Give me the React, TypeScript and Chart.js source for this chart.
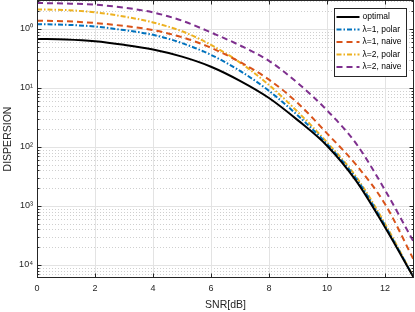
import React, { useEffect, useRef } from 'react';
import { Chart, registerables } from 'chart.js';

Chart.register(...registerables);

const snr = [0, 1, 2, 3, 4, 5, 6, 7, 8, 9, 10, 11, 12, 13];
const optimal = [0.676, 0.661, 0.617, 0.537, 0.447, 0.339, 0.229, 0.132, 0.0676, 0.0282, 0.0105, 0.00269, 0.000437, 0.0000603];
const lam1Polar = [1.202, 1.175, 1.096, 0.955, 0.794, 0.575, 0.363, 0.195, 0.0891, 0.0339, 0.0112, 0.00295, 0.000468, 0.0000603];
const lam1Naive = [1.38, 1.349, 1.259, 1.122, 0.955, 0.724, 0.479, 0.275, 0.138, 0.055, 0.017, 0.00501, 0.00108, 0.00012];
const lam2Polar = [2.138, 2.089, 1.905, 1.622, 1.288, 0.912, 0.537, 0.269, 0.112, 0.0389, 0.012, 0.00316, 0.000501, 0.0000603];
const lam2Naive = [2.754, 2.692, 2.57, 2.291, 1.905, 1.38, 0.871, 0.525, 0.288, 0.12, 0.0417, 0.0115, 0.00186, 0.00024];

const seriesLabels = ['optimal', 'λ=1, polar', 'λ=1, naive', 'λ=2, polar', 'λ=2, naive'];
const xTicks = [0, 2, 4, 6, 8, 10, 12];
const yTicks = [1e-4, 1e-3, 1e-2, 1e-1, 1];
const yTickLabels = ['10⁴', '10³', '10²', '10¹', '10⁰'];
const xMin = 0;
const xMax = 13;
const yMin = Math.pow(10, -4.22);
const yMax = Math.pow(10, 0.49);

const FONT = '"Liberation Sans", Arial, Helvetica, sans-serif';
const AXIS = '#262626';

const styles = [
  { color: '#000000', dash: [] as number[] },
  { color: '#0072BD', dash: [5, 2, 1.5, 2] },
  { color: '#D95319', dash: [6, 4] },
  { color: '#EDB120', dash: [5, 2, 1.5, 2] },
  { color: '#7E2F8E', dash: [6, 4] },
];

const framePlugin = {
  id: 'matlabFrame',
  beforeDatasetsDraw(chart: any) {
    const { ctx, chartArea: ca, scales } = chart;
    const xs = scales.x;
    const ys = scales.y;
    ctx.save();
    ctx.strokeStyle = '#cfcfcf';
    ctx.lineWidth = 1;
    ctx.setLineDash([1, 2]);
    for (let e = -5; e <= 1; e++) {
      for (let m = 2; m <= 9; m++) {
        const v = m * Math.pow(10, e);
        if (v < yMin || v > yMax) continue;
        const y = Math.round(ys.getPixelForValue(v)) + 0.5;
        ctx.beginPath();
        ctx.moveTo(ca.left, y);
        ctx.lineTo(ca.right, y);
        ctx.stroke();
      }
    }
    ctx.setLineDash([]);
    ctx.strokeStyle = '#e3e3e3';
    for (const v of yTicks) {
      const y = Math.round(ys.getPixelForValue(v)) + 0.5;
      ctx.beginPath();
      ctx.moveTo(ca.left, y);
      ctx.lineTo(ca.right, y);
      ctx.stroke();
    }
    for (const v of xTicks) {
      const x = Math.round(xs.getPixelForValue(v)) + 0.5;
      ctx.beginPath();
      ctx.moveTo(x, ca.top);
      ctx.lineTo(x, ca.bottom);
      ctx.stroke();
    }
    ctx.restore();
  },
  afterDatasetsDraw(chart: any) {
    const { ctx, chartArea: ca, scales } = chart;
    const xs = scales.x;
    const ys = scales.y;
    ctx.save();
    ctx.strokeStyle = AXIS;
    ctx.lineWidth = 1;
    ctx.setLineDash([]);
    const L = Math.round(ca.left) + 0.5;
    const R = Math.round(ca.right) - 0.5;
    const T = Math.round(ca.top) + 0.5;
    const B = Math.round(ca.bottom) - 0.5;
    ctx.strokeRect(L, T, R - L, B - T);
    for (const v of xTicks) {
      const x = Math.round(xs.getPixelForValue(v)) + 0.5;
      ctx.beginPath();
      ctx.moveTo(x, B);
      ctx.lineTo(x, B - 4);
      ctx.moveTo(x, T);
      ctx.lineTo(x, T + 4);
      ctx.stroke();
    }
    for (let e = -5; e <= 1; e++) {
      for (let m = 1; m <= 9; m++) {
        const v = m * Math.pow(10, e);
        if (v < yMin || v > yMax) continue;
        const len = m === 1 ? 4 : 2;
        const y = Math.round(ys.getPixelForValue(v)) + 0.5;
        ctx.beginPath();
        ctx.moveTo(L, y);
        ctx.lineTo(L + len, y);
        ctx.moveTo(R, y);
        ctx.lineTo(R - len, y);
        ctx.stroke();
      }
    }
    const bx = Math.round(ca.right) - 79.5;
    const by = 8.5;
    const bw = 72;
    const bh = 68;
    ctx.fillStyle = '#ffffff';
    ctx.fillRect(bx, by, bw, bh);
    ctx.strokeStyle = AXIS;
    ctx.strokeRect(bx, by, bw, bh);
    ctx.font = `8.5px ${FONT}`;
    ctx.textBaseline = 'middle';
    ctx.textAlign = 'left';
    seriesLabels.forEach((label, i) => {
      const y = by + 8.5 + i * 12.5;
      ctx.strokeStyle = styles[i].color;
      ctx.lineWidth = 2;
      ctx.setLineDash(styles[i].dash);
      ctx.beginPath();
      ctx.moveTo(bx + 2, y);
      ctx.lineTo(bx + 25, y);
      ctx.stroke();
      ctx.setLineDash([]);
      ctx.fillStyle = '#000000';
      ctx.fillText(label, bx + 28, y);
    });
    ctx.restore();
  },
};

export default function App() {
  const canvasRef = useRef<HTMLCanvasElement | null>(null);

  useEffect(() => {
    document.body.style.margin = '0';
    const canvas = canvasRef.current;
    if (!canvas) return;
    const seriesData = [optimal, lam1Polar, lam1Naive, lam2Polar, lam2Naive];
    const chart = new Chart(canvas, {
      type: 'line',
      data: {
        datasets: seriesData.map((arr, i) => ({
          label: seriesLabels[i],
          data: snr.map((x, j) => ({ x, y: arr[j] })),
          borderColor: styles[i].color,
          backgroundColor: styles[i].color,
          borderDash: styles[i].dash,
          borderWidth: 2,
          pointRadius: 0,
          cubicInterpolationMode: 'monotone',
          fill: false,
        })),
      },
      options: {
        responsive: false,
        animation: false,
        devicePixelRatio: 1,
        layout: { padding: { top: 0, right: 1, left: 0, bottom: 0 }, autoPadding: false },
        plugins: {
          legend: { display: false },
          tooltip: { enabled: false },
        },
        scales: {
          x: {
            type: 'linear',
            min: xMin,
            max: xMax,
            afterBuildTicks: (s: any) => {
              s.ticks = xTicks.map((v) => ({ value: v }));
            },
            afterFit: (s: any) => {
              s.height = 34;
              s.paddingLeft = 0;
              s.paddingRight = 0;
            },
            grid: { display: false, drawTicks: false },
            border: { display: false },
            ticks: {
              color: AXIS,
              font: { family: FONT, size: 9 },
              padding: 5,
              maxRotation: 0,
              autoSkip: false,
            },
            title: {
              display: true,
              text: 'SNR[dB]',
              color: AXIS,
              font: { family: FONT, size: 10.5 },
              padding: { top: 0, bottom: 1 },
            },
          },
          y: {
            type: 'logarithmic',
            min: yMin,
            max: yMax,
            afterBuildTicks: (s: any) => {
              s.ticks = yTicks.map((v) => ({ value: v }));
            },
            afterFit: (s: any) => {
              s.width = 37;
              s.paddingTop = 0;
              s.paddingBottom = 0;
            },
            grid: { display: false, drawTicks: false },
            border: { display: false },
            ticks: {
              color: AXIS,
              font: { family: FONT, size: 9 },
              padding: 4,
              autoSkip: false,
              callback: (_v: any, i: number) => yTickLabels[i],
            },
            title: {
              display: true,
              text: 'DISPERSION',
              color: AXIS,
              font: { family: FONT, size: 10.5 },
              padding: { top: 2, bottom: 0 },
            },
          },
        },
      },
      plugins: [framePlugin],
    } as any);
    return () => chart.destroy();
  }, []);

  return (
    <div style={{ width: 415, height: 312 }}>
      <canvas ref={canvasRef} width={415} height={312} />
    </div>
  );
}
